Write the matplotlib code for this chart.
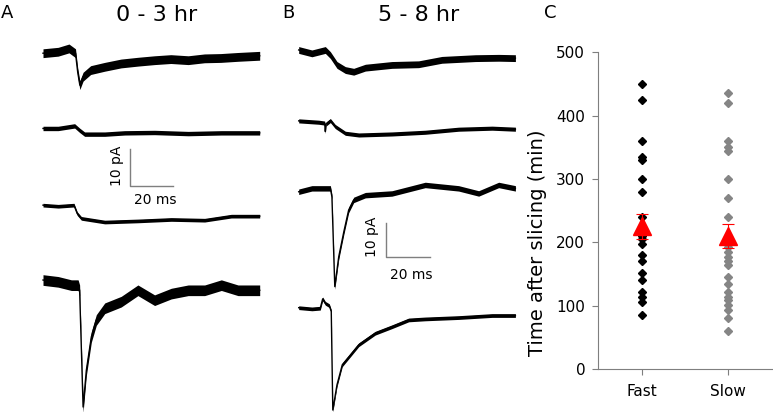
import numpy as np
import matplotlib
matplotlib.use("Agg")
import matplotlib.pyplot as plt

plt.rcParams['font.family'] = ['DejaVu Sans']

# ---- panel C data (min after slicing) ----
fast = [450, 425, 360, 335, 330, 300, 280, 240, 222, 210, 205, 197, 180,
        170, 152, 140, 122, 113, 106, 85]
slow = [435, 420, 360, 351, 344, 300, 270, 240, 210, 193, 185, 177, 170,
        164, 146, 134, 121, 114, 109, 101, 93, 80, 60]
group_names = ['Fast', 'Slow']
group_means = [225, 210]
group_sem = [19, 19]

# ---- traces: time (ms), current relative to baseline (pA) ----
# 0 - 3 hr
a1_t = [0, 7, 12, 15, 16, 17, 18.5, 22, 28.5, 36, 44, 51.5, 59, 67, 74.5, 82, 90, 100]
a1_i = [-0.3, 0.1, 1.0, -0.3, -5.4, -9.0, -6.7, -4.9, -4.0, -3.1, -2.6, -2.2,
        -1.9, -2.2, -1.7, -1.6, -1.3, -1.0]
a2_t = [0, 7, 14.6, 16.9, 19.2, 28.5, 37.7, 51.5, 67, 82.3, 100]
a2_i = [0, 0, 0.7, -0.5, -1.55, -1.55, -1.2, -1.1, -1.4, -1.2, -1.2]
a3_t = [0, 7, 14.3, 15.8, 17.7, 28.5, 43.8, 59.2, 74.6, 86.9, 100]
a3_i = [0, -0.3, 0, -2.3, -3.6, -4.6, -4.3, -3.9, -4.1, -3.0, -3.0]
a4_t = [0, 7, 13.1, 16.2, 16.9, 18.5, 20.0, 22.3, 24.6, 28.5, 36.1, 43.8,
        51.5, 59.2, 67, 74.6, 82.3, 90, 100]
a4_i = [0.3, -0.2, -1.1, -1.1, -2.5, -34.3, -24.3, -15.2, -10.6, -7.4, -5.6,
        -2.5, -5.2, -3.4, -2.5, -2.5, -1.1, -2.5, -2.5]
# 5 - 8 hr
b1_t = [0, 6, 12.1, 14.4, 17.4, 21.2, 25, 30.3, 42.4, 54.5, 65.1, 80.3, 90.9, 98.5]
b1_i = [0, -1.0, 0, -1.5, -4.4, -5.9, -6.4, -5.2, -4.4, -4.2, -2.9, -2.4, -2.3, -2.4]
b2_t = [0, 9.1, 11.8, 12.1, 12.4, 14.4, 16.6, 21.2, 27.3, 42.4, 57.5, 72.7, 87.9, 98.5]
b2_i = [0.15, -0.25, -0.5, -3.0, -0.8, 0.25, -1.5, -3.5, -4.0, -3.7, -3.2,
        -2.3, -2.0, -2.3]
b3_t = [0, 6, 14.4, 15.1, 16.4, 18.2, 20.5, 22.7, 25, 30.3, 42.4, 57.5, 72.7,
        81.8, 90.9, 98.5]
b3_i = [-0.8, 0.2, 0.2, -2.3, -28.7, -19.9, -12.6, -6.2, -3.2, -1.8, -1.3,
        1.2, 0.2, -1.3, 1.2, 0.2]
b4_t = [0, 6, 9.8, 10.9, 12.1, 13.9, 14.8, 15.5, 17.4, 19.8, 23.5, 27.3, 34.8,
        42.4, 50, 57.5, 65.1, 72.7, 80.3, 87.9, 98.5]
b4_i = [0.2, -0.15, 0.05, 2.8, 1.5, 0.8, -0.9, -29.9, -22.5, -16.6, -13.7,
        -10.7, -7.3, -5.4, -3.4, -3.1, -2.9, -2.7, -2.4, -2.1, -2.1]

fig = plt.figure(figsize=(7.73, 4.12), dpi=100)
W, H = 773.0, 412.0


def trace_panel(rect, xlim, ylim, traces, bar, labels):
    ax = fig.add_axes(rect)
    ax.set_xlim(*xlim)
    ax.set_ylim(*ylim)
    ax.axis('off')
    for t, i, base, noise in traces:
        y = np.asarray(i) + base
        ax.fill_between(t, y - noise, y + noise, color='black', lw=0)
        ax.plot(t, y, color='black', lw=1.0)
    x0, y0 = bar
    ax.plot([x0, x0, x0 + 20], [y0 + 10, y0, y0], color='#7f7f7f', lw=1.0)
    (vx, vy), (hx, hy) = labels
    ax.text(vx, vy, '10 pA', rotation=90, ha='center', va='center', fontsize=10)
    ax.text(hx, hy, '20 ms', ha='center', va='center', fontsize=10)
    return ax


# panel A: 2.167 px per ms, 3.67 px per pA
trace_panel([0, 0, 280 / W, 1], (-43 / 2.167, 237 / 2.167), (-H / 3.67, 0),
            [(a1_t, a1_i, -14.2, 1.2), (a2_t, a2_i, -35.0, 0.6),
             (a3_t, a3_i, -55.9, 0.5), (a4_t, a4_i, -76.6, 1.45)],
            (40.1, -50.7), ((34.0, -45.1), (51.7, -54.5)))

# panel B: 2.2 px per ms, 3.4 px per pA
trace_panel([285 / W, 0, 245 / W, 1], (-13.7 / 2.2, 231.3 / 2.2), (-H / 3.4, 0),
            [(b1_t, b1_i, -14.7, 1.0), (b2_t, b2_i, -35.7, 0.6),
             (b3_t, b3_i, -55.6, 0.8), (b4_t, b4_i, -90.7, 0.55)],
            (39.7, -75.7), ((33.3, -69.6), (51.2, -80.9)))

# panel C
axc = fig.add_axes([597.7 / W, 43 / H, 1 - 597.7 / W, (369 - 52.3) / H])
axc.plot([1] * len(fast), fast, 'D', color='black', ms=4.5, ls='none')
axc.plot([2] * len(slow), slow, 'D', color='#858585', ms=4.5, ls='none')
axc.errorbar([1, 2], group_means, yerr=group_sem, fmt='none', ecolor='red',
             elinewidth=0.8, capsize=4, capthick=0.8, zorder=4)
axc.plot([1, 2], group_means, '^', color='red', ms=13, ls='none', zorder=5)
axc.set_xlim(0.49, 2.52)
axc.set_ylim(0, 500)
axc.set_yticks([0, 100, 200, 300, 400, 500])
axc.set_xticks([1, 2])
axc.set_xticklabels(group_names)
axc.tick_params(labelsize=11, color='#7f7f7f', length=4)
axc.tick_params(axis='y', pad=5)
axc.tick_params(axis='x', pad=7)
for s in ['top', 'right']:
    axc.spines[s].set_visible(False)
for s in ['left', 'bottom']:
    axc.spines[s].set_color('#7f7f7f')
axc.set_ylabel('Time after slicing (min)', fontsize=14)
axc.yaxis.set_label_coords(-0.29, 0.40)

# titles and panel letters
fig.text(156.7 / W, 1 - 15 / H, '0 - 3 hr', ha='center', va='center', fontsize=16)
fig.text(419 / W, 1 - 15 / H, '5 - 8 hr', ha='center', va='center', fontsize=16)
fig.text(1 / W, 1 - 13 / H, 'A', ha='left', va='center', fontsize=13)
fig.text(282 / W, 1 - 13 / H, 'B', ha='left', va='center', fontsize=13)
fig.text(544 / W, 1 - 13 / H, 'C', ha='left', va='center', fontsize=13)

fig.savefig('out.png', dpi=100)
